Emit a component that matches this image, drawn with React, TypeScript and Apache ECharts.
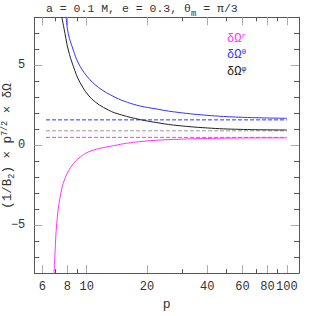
import React, { useEffect, useRef } from "react";
import * as echarts from "echarts";

const titleText = "a = 0.1 M, e = 0.3, θ";
const xMajorTicks = [6, 8, 10, 20, 40, 60, 80, 100];
const xMinorTicks = [7, 9, 30, 50, 70, 90];
const yMajorTicks = [-5, 0, 5];
const yMinorTicks = [-8, -7, -6, -4, -3, -2, -1, 1, 2, 3, 4, 6, 7, 8];

const pR = [6.86, 6.94, 7.08, 7.35, 7.79, 8.57, 9.61, 10.5, 12, 13.6, 16, 20.7, 27.1, 40, 60, 100];
const vR = [-8.17, -6.75, -4.92, -3.29, -2.07, -1.16, -0.6, -0.36, -0.16, -0.03, 0.13, 0.28, 0.36, 0.42, 0.45, 0.46];

const pTh = [7.88, 8.09, 8.57, 9.08, 10, 11.43, 13.85, 16, 18.5, 21.95, 27.1, 39.8, 58.4, 100];
const vTh = [8.05, 6.97, 5.95, 5.14, 4.33, 3.62, 3.0, 2.68, 2.45, 2.28, 2.09, 1.87, 1.75, 1.68];

const pPh = [7.5, 7.79, 8.09, 8.57, 9.26, 10.59, 12.82, 14.96, 18.5, 21.95, 27.1, 39.8, 58.4, 100];
const vPh = [8.05, 6.97, 5.95, 4.94, 3.92, 2.9, 2.2, 1.89, 1.6, 1.43, 1.26, 1.08, 0.99, 0.95];

const asymP = [6.26, 100];
const asymR = 0.49;
const asymTh = 1.585;
const asymPh = 0.9;

const colR = "#ff33ff";
const colTh = "#3333ff";
const colPh = "#222222";
const frame = "#555555";
const majorTickCol = "#aaaaaa";
const FONT = "Liberation Mono";

function zip(p: number[], v: number[]) {
  return p.map((x, i) => [x, v[i]]);
}

export default function App() {
  const ref = useRef<HTMLDivElement>(null);
  useEffect(() => {
    if (!ref.current) return;
    const chart = echarts.init(ref.current, null, { renderer: "svg" });
    const grid = { left: 34.3, top: 17.3, right: 17, bottom: 34.3 };
    const xBase = (pos: string, show: boolean, ticks: number[], len: number, col: string, labels: boolean) => ({
      type: "log",
      logBase: 10,
      position: pos,
      min: 5.47,
      max: 115,
      show: true,
      axisLine: { show: show, onZero: false, lineStyle: { color: frame, width: 1 } },
      axisTick: { show: true, inside: true, length: len, customValues: ticks, lineStyle: { color: col, width: 1 } },
      minorTick: { show: false },
      splitLine: { show: false },
      axisLabel: labels
        ? {
            show: true,
            customValues: ticks,
            margin: 8,
            color: "#333",
            fontFamily: FONT,
            fontSize: 12,
            formatter: (v: number) => String(Math.round(v)),
          }
        : { show: false },
      name: labels ? "p" : "",
      nameLocation: "middle",
      nameGap: 22,
      nameTextStyle: { fontFamily: FONT, fontSize: 13, color: "#333" },
    });
    const yBase = (pos: string, show: boolean, ticks: number[], len: number, col: string, labels: boolean) => ({
      type: "value",
      position: pos,
      min: -8,
      max: 8,
      axisLine: { show: show, onZero: false, lineStyle: { color: frame, width: 1 } },
      axisTick: { show: true, inside: true, length: len, customValues: ticks, lineStyle: { color: col, width: 1 } },
      splitLine: { show: false },
      axisLabel: labels
        ? {
            show: true,
            customValues: ticks,
            margin: 9,
            color: "#333",
            fontFamily: FONT,
            fontSize: 12,
            formatter: (v: number) => (v < 0 ? "−" + Math.abs(v) : String(v)),
          }
        : { show: false },
    });
    const line = (data: number[][], color: string, dashed: boolean) => ({
      type: "line",
      data,
      showSymbol: false,
      symbol: "none",
      smooth: dashed ? false : 0.4,
      clip: true,
      lineStyle: { color, width: 1, type: dashed ? [4, 2] : "solid" },
      silent: true,
    });
    chart.setOption({
      animation: false,
      grid,
      xAxis: [
        xBase("bottom", true, xMajorTicks, 8, majorTickCol, true),
        xBase("bottom", false, xMinorTicks, 4, frame, false),
        xBase("top", true, xMajorTicks, 8, majorTickCol, false),
        xBase("top", false, xMinorTicks, 4, frame, false),
      ],
      yAxis: [
        yBase("left", true, yMajorTicks, 8, majorTickCol, true),
        yBase("left", false, yMinorTicks, 5, frame, false),
        yBase("right", true, yMajorTicks, 8, majorTickCol, false),
        yBase("right", false, yMinorTicks, 5, frame, false),
      ],
      series: [
        line(zip(asymP, [asymTh, asymTh]), colTh, true),
        line(zip(asymP, [asymPh, asymPh]), "#999999", true),
        line(zip(asymP, [asymR, asymR]), colR, true),
        line(zip(pR, vR), colR, false),
        line(zip(pTh, vTh), colTh, false),
        line(zip(pPh, vPh), colPh, false),
      ],
      graphic: [
        {
          type: "text",
          left: 46,
          top: 2,
          style: {
            text: "{n|" + titleText + "}{s|m}{n| = π/3}",
            rich: {
              n: { fontFamily: FONT, fontSize: 11.5, fill: "#333", lineHeight: 16, verticalAlign: "top" },
              s: { fontFamily: FONT, fontSize: 9, fill: "#333", lineHeight: 16, verticalAlign: "bottom" },
            },
          },
        },
        {
          type: "text",
          x: 8,
          y: 146,
          rotation: Math.PI / 2,
          style: {
            text: "{n|(1/B}{s|2}{n|) × p}{u|7/2}{n| × δΩ}",
            align: "center",
            verticalAlign: "middle",
            rich: {
              n: { fontFamily: FONT, fontSize: 12.5, fill: "#333", lineHeight: 16, verticalAlign: "middle" },
              s: { fontFamily: FONT, fontSize: 8.5, fill: "#333", lineHeight: 16, verticalAlign: "bottom" },
              u: { fontFamily: FONT, fontSize: 8.5, fill: "#333", lineHeight: 16, verticalAlign: "top" },
            },
          },
        },
        ...[
          ["r", colR, 39],
          ["θ", colTh, 55],
          ["φ", colPh, 72],
        ].map(([sup, c, y]) => ({
          type: "text",
          x: 227,
          y: y as number,
          style: {
            text: "{n|δΩ}{u|" + sup + "}",
            verticalAlign: "middle",
            rich: {
              n: { fontFamily: FONT, fontSize: 12, fill: c as string, lineHeight: 15, verticalAlign: "middle" },
              u: { fontFamily: FONT, fontSize: 8, fill: c as string, lineHeight: 15, verticalAlign: "top" },
            },
          },
        })),
      ],
    });
    return () => chart.dispose();
  }, []);
  return (
    <div
      ref={ref}
      style={{ position: "fixed", left: 0, top: 0, width: 316, height: 316, background: "#fff" }}
    />
  );
}
